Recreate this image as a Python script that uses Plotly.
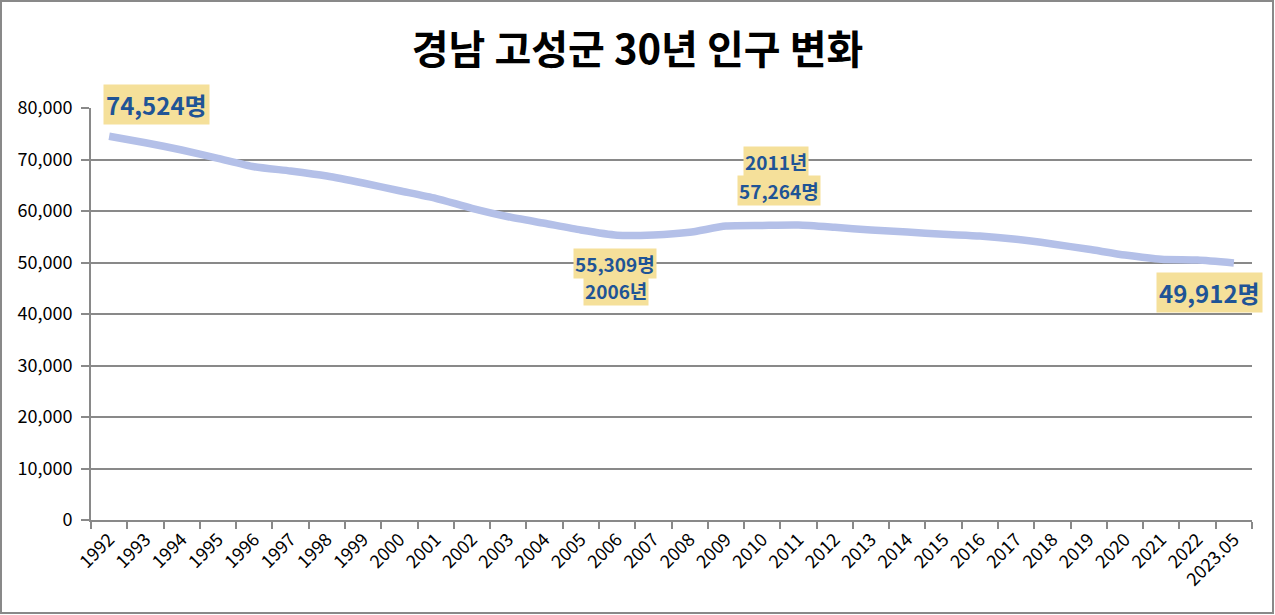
import plotly.graph_objects as go

years = ["1992", "1993", "1994", "1995", "1996", "1997", "1998", "1999", "2000", "2001",
         "2002", "2003", "2004", "2005", "2006", "2007", "2008", "2009", "2010", "2011",
         "2012", "2013", "2014", "2015", "2016", "2017", "2018", "2019", "2020", "2021",
         "2022", "2023.05"]
population = [74524, 73260, 71840, 70230, 68600, 67770, 66790, 65430, 63940, 62460,
              60520, 58890, 57610, 56310, 55309, 55350, 55860, 57090, 57200, 57264,
              56830, 56310, 55920, 55470, 55140, 54500, 53590, 52560, 51450, 50620,
              50480, 49912]
y_ticks = [0, 10000, 20000, 30000, 40000, 50000, 60000, 70000, 80000]

title_text = "경남 고성군 30년 인구 변화"
FONT = "Noto Sans CJK KR"
GRID = "#898989"
LINE = "rgb(180,192,232)"
BOX = "rgb(245,224,154)"
LABEL = "#1F5496"

W, H = 1275, 615
ML, MR, MT, MB = 91, 23, 108, 95
pw, ph = W - ML - MR, H - MT - MB

fig = go.Figure()
fig.add_trace(go.Scatter(
    x=years, y=population, mode="lines",
    line=dict(color=LINE, width=7.5, shape="spline", smoothing=0.6),
    hoverinfo="x+y", showlegend=False,
))

i_first, i_last = 0, len(years) - 1
i_min = years.index("2006")
i_peak = years.index("2011")

# category axis: annotations positioned by category index (numeric-looking labels)
common = dict(xref="x", yref="y", showarrow=False, bgcolor=BOX, align="center")
big = dict(size=24, color=LABEL, family=FONT)
small = dict(size=19, color=LABEL, family=FONT)

fig.add_annotation(x=i_first, y=population[i_first],
                   text=f"<b>{population[i_first]:,}명</b>", borderpad=2,
                   xanchor="left", yanchor="bottom", xshift=-6, yshift=11,
                   font=big, **common)
fig.add_annotation(x=i_peak, y=population[i_peak],
                   text=f"<b>{population[i_peak]:,}명</b>", borderpad=1,
                   xanchor="center", yanchor="bottom", xshift=-19, yshift=19,
                   font=small, **common)
fig.add_annotation(x=i_peak, y=population[i_peak],
                   text=f"<b>{years[i_peak]}년</b>", borderpad=1,
                   xanchor="center", yanchor="bottom", xshift=-22, yshift=48,
                   font=small, **common)
fig.add_annotation(x=i_min, y=population[i_min],
                   text=f"<b>{population[i_min]:,}명</b>", borderpad=1,
                   xanchor="center", yanchor="top", xshift=-2, yshift=-13,
                   font=small, **common)
fig.add_annotation(x=i_min, y=population[i_min],
                   text=f"<b>{years[i_min]}년</b>", borderpad=1,
                   xanchor="center", yanchor="top", xshift=-1, yshift=-40,
                   font=small, **common)
fig.add_annotation(x=i_last, y=population[i_last],
                   text=f"<b>{population[i_last]:,}명</b>", borderpad=2,
                   xanchor="right", yanchor="top", xshift=29, yshift=-9,
                   font=big, **common)

fig.update_layout(
    width=W, height=H,
    margin=dict(l=ML, r=MR, t=MT, b=MB),
    paper_bgcolor="white", plot_bgcolor="white",
    title=dict(text=f"<b>{title_text}</b>", x=0.5, xref="container", xanchor="center",
               y=1 - 50 / H, yref="container", yanchor="middle",
               font=dict(size=40, color="black", family=FONT)),
    font=dict(family=FONT, color="black"),
    shapes=[dict(type="rect", xref="paper", yref="paper",
                 x0=(1 - ML) / pw, x1=(W - 2 - ML) / pw,
                 y0=(H - MB - (H - 2)) / ph, y1=(H - MB - 1) / ph,
                 line=dict(color=GRID, width=2), fillcolor="rgba(0,0,0,0)", layer="below")],
)
fig.update_xaxes(
    type="category", range=[-0.5, len(years) - 0.5],
    showgrid=False, showline=True, linecolor=GRID, linewidth=2,
    ticks="outside", tickson="boundaries", ticklen=7, tickcolor=GRID, tickwidth=2,
    tickangle=-45, tickfont=dict(size=18, color="black", family=FONT),
)
fig.update_yaxes(
    range=[0, 80000], tickvals=y_ticks, tickformat=",",
    showgrid=True, gridcolor=GRID, gridwidth=2,
    showline=True, linecolor=GRID, linewidth=2, zeroline=False,
    ticks="outside", ticklen=8, tickcolor=GRID, tickwidth=2, ticklabelstandoff=5,
    tickfont=dict(size=18, color="black", family=FONT),
)

fig.write_html("out.html", config={"displayModeBar": False},
               post_script="document.body.style.margin='0px';document.body.style.overflow='hidden';")
